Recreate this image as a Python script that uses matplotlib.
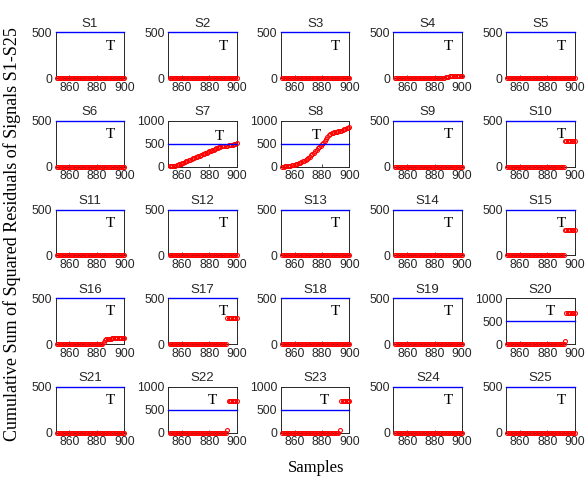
import numpy as np
import matplotlib
matplotlib.use("Agg")
import matplotlib.pyplot as plt

samples = np.arange(851, 901)  # 50 samples

zero = [0.0] * 50

s4 = [0]*37 + [10, 15, 18, 20, 22, 24, 25, 26, 27, 28, 29, 30, 30]
s7 = [10, 15, 20, 25, 30, 40, 50, 60, 70, 85, 95, 110, 120, 135, 145, 160, 170, 185, 195, 210,
      220, 235, 245, 260, 270, 285, 295, 310, 320, 335, 345, 360, 375, 390, 400, 415, 425, 435, 445, 450,
      455, 460, 465, 470, 470, 475, 480, 490, 505, 520]
s8 = [5, 8, 12, 15, 20, 25, 30, 38, 45, 52, 60, 70, 80, 92, 105, 120, 135, 155, 175, 200,
      225, 250, 280, 310, 340, 370, 400, 430, 460, 490, 530, 570, 610, 650, 690, 715, 735, 745, 750, 755,
      760, 770, 780, 790, 800, 815, 830, 840, 850, 865]
s10 = [0]*42 + [280]*8
s15 = [0]*42 + [280]*8
s16 = [0]*34 + [20, 45, 55, 58, 60, 60, 62, 62, 63, 63, 64, 64, 65, 65, 65, 65]
s17 = [0]*42 + [280]*8
s20 = [0]*42 + [60] + [680]*7
s22 = [0]*42 + [60] + [680]*7
s23 = [0]*42 + [60] + [680]*7

signals = {
    "S1": zero, "S2": zero, "S3": zero, "S4": s4, "S5": zero,
    "S6": zero, "S7": s7, "S8": s8, "S9": zero, "S10": s10,
    "S11": zero, "S12": zero, "S13": zero, "S14": zero, "S15": s15,
    "S16": s16, "S17": s17, "S18": zero, "S19": zero, "S20": s20,
    "S21": zero, "S22": s22, "S23": s23, "S24": zero, "S25": zero,
}
threshold = 500
names = [f"S{i}" for i in range(1, 26)]

W, H = 585, 479
fig = plt.figure(figsize=(W/100, H/100), dpi=100)

sans = ["Liberation Sans", "DejaVu Sans"]
serif = ["Liberation Serif", "DejaVu Serif"]
axcol = "#262626"

lefts = [55.7 + 112.6*c for c in range(5)]
tops = [32.3 + 88.6*r for r in range(5)]
aw, ah = 68.5, 46.0

t_special = {"S7": (887, 660), "S8": (876, 690)}

for i, name in enumerate(names):
    r, c = divmod(i, 5)
    rect = [lefts[c]/W, 1 - (tops[r]+ah)/H, aw/W, ah/H]
    ax = fig.add_axes(rect)
    y = np.array(signals[name], dtype=float)
    ymax = 1000 if y.max() > 500 else 500
    ax.plot(samples, y, linestyle="none", marker="o", markersize=2.8,
            markerfacecolor="none", markeredgecolor="red", markeredgewidth=0.8,
            clip_on=False, zorder=3)
    ax.axhline(threshold, color="blue", lw=1.0, clip_on=False, zorder=4)
    ax.set_xlim(850, 900)
    ax.set_ylim(0, ymax)
    ax.set_xticks([860, 880, 900])
    ax.set_yticks([0, 500] if ymax == 500 else [0, 500, 1000])
    ax.tick_params(direction="in", length=2.5, width=0.6, labelsize=8.7,
                   colors=axcol, pad=2.5)
    for lab in ax.get_xticklabels() + ax.get_yticklabels():
        lab.set_family(sans)
    for sp in ax.spines.values():
        sp.set_color(axcol)
        sp.set_linewidth(0.7)
    ax.set_title(name, fontsize=9.5, family=sans, color=axcol, pad=4)
    if name in t_special:
        tx, ty = t_special[name]
    elif ymax == 500:
        tx, ty = 890, 350
    else:
        tx, ty = 882, 700
    ax.text(tx, ty, "T", family=serif, fontsize=11, ha="center", va="center", color="black")

fig.text(12/W, 1 - 234/H, "Cumulative Sum of Squared Residuals of Signals S1-S25",
         rotation=90, ha="center", va="center", family=serif, fontsize=13)
fig.text(316/W, 1 - 468/H, "Samples", ha="center", va="center", family=serif, fontsize=12)

fig.savefig("out.png", dpi=100)
